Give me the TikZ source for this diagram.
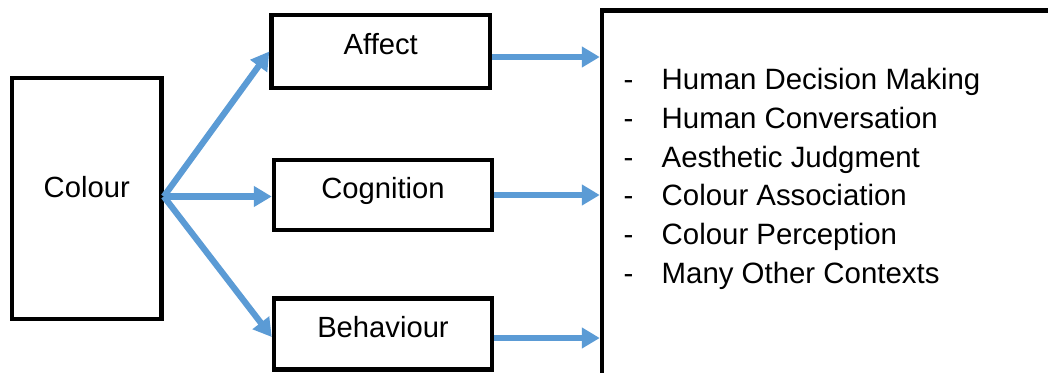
\documentclass[tikz,border=0pt]{standalone}
\usepackage{fontspec}
\setmainfont{Liberation Sans}
\usetikzlibrary{arrows.meta}
\definecolor{flowblue}{HTML}{5B9BD5}
\begin{document}
\begin{tikzpicture}[x=1pt,y=-1pt,
  box/.style={draw=black, line width=4.5pt, fill=white, inner sep=0pt,
              font=\fontsize{29.2}{35}\selectfont},
  flow/.style={draw=flowblue, line width=6.2pt,
               -{Triangle[length=18pt,width=20pt]}},
  item/.style={anchor=base west, inner sep=0pt,
               font=\fontsize{29.4}{35}\selectfont}]
\useasboundingbox (0,0) rectangle (1048,372);
\clip (0,0) rectangle (1048,372);
\fill[white] (0,0) rectangle (1048,372);

% source box
\node[box, minimum width=149.5pt, minimum height=241pt,
      text height=10.5pt, text depth=13.5pt] (Colour) at (86.75,198.5) {Colour};

% three middle boxes
\node[box, minimum width=218.5pt, minimum height=73pt,
      text height=17.5pt, text depth=12.5pt] (Affect) at (380.75,51.5) {Affect};
\node[box, minimum width=218pt, minimum height=70pt,
      text height=18pt, text depth=12pt] (Cognition) at (383,195) {Cognition};
\node[box, minimum width=218pt, minimum height=70.6pt,
      text height=18pt, text depth=12pt] (Behaviour) at (383,334) {Behaviour};

% large target box (runs off the right and bottom edges)
\node[box, minimum width=468pt, minimum height=380pt] (Big) at (836,200.5) {};

% list of contexts
\node[item] (d1) at (623.5,89)    {-};
\node[item] (t1) at (661.5,89)    {Human Decision Making};
\node[item] (d2) at (623.5,128)   {-};
\node[item] (t2) at (661.5,128)   {Human Conversation};
\node[item] (d3) at (623.5,167)   {-};
\node[item] (t3) at (661.5,167)   {Aesthetic Judgment};
\node[item] (d4) at (623.5,205.5) {-};
\node[item] (t4) at (661.5,205.5) {Colour Association};
\node[item] (d5) at (623.5,244.5) {-};
\node[item] (t5) at (661.5,244.5) {Colour Perception};
\node[item] (d6) at (623.5,283.5) {-};
\node[item] (t6) at (661.5,283.5) {Many Other Contexts};

% connectors: the three branches leave one point on the source box
\coordinate (fork) at ([yshift=2pt]Colour.east);
\draw[flow] (fork) -- (Affect.west);
\draw[flow] (fork) -- (fork -| Cognition.west);
\draw[flow] (fork) -- ([yshift=-3pt]Behaviour.west);

\draw[flow] ([yshift=-5.5pt]Affect.east) -- ([yshift=-5.5pt]Affect.east -| Big.west);
\draw[flow] (Cognition.east) -- (Cognition.east -| Big.west);
\draw[flow] ([yshift=-4pt]Behaviour.east) -- ([yshift=-4pt]Behaviour.east -| Big.west);
\end{tikzpicture}
\end{document}
